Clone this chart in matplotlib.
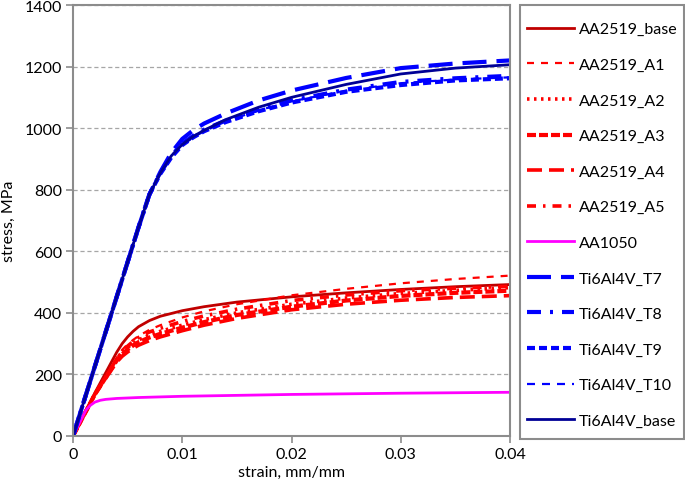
import matplotlib
matplotlib.use("Agg")
import matplotlib.pyplot as plt
from matplotlib.patches import Rectangle

plt.rcParams['font.family'] = ['Lato', 'DejaVu Sans']
plt.rcParams['lines.scale_dashes'] = False

# ---------------- data ----------------
strain_al = [0, 0.002, 0.004, 0.0045, 0.005, 0.0055, 0.006, 0.007, 0.008, 0.01, 0.012, 0.015, 0.02, 0.025, 0.03, 0.035, 0.04]
aa2519_base = [0, 140, 272, 300, 322, 340, 355, 375, 389, 407, 420, 435, 452, 465, 476, 485, 492]
aa2519_a1 = [0, 135, 255, 280, 298, 312, 325, 345, 360, 385, 405, 428, 457, 478, 496, 510, 521]
aa2519_a2 = [0, 135, 250, 272, 288, 301, 312, 328, 340, 360, 378, 400, 428, 448, 463, 473, 482]
aa2519_a3 = [0, 135, 245, 266, 281, 294, 305, 320, 332, 352, 370, 393, 420, 440, 455, 465, 472]
aa2519_a4 = [0, 135, 240, 259, 273, 285, 295, 310, 322, 342, 360, 382, 410, 428, 441, 450, 456]
aa2519_a5 = [0, 135, 250, 274, 292, 307, 320, 338, 350, 372, 390, 412, 440, 458, 472, 480, 486]

strain_1050 = [0, 0.0012, 0.0016, 0.002, 0.0025, 0.003, 0.004, 0.006, 0.01, 0.02, 0.03, 0.04]
aa1050 = [0, 85, 100, 110, 116, 119, 122, 125, 129, 135, 139, 142]

strain_ti = [0, 0.002, 0.004, 0.006, 0.007, 0.008, 0.009, 0.01, 0.011, 0.012, 0.014, 0.017, 0.02, 0.025, 0.03, 0.035, 0.04]
ti_t7 = [0, 226, 452, 678, 785, 858, 920, 965, 993, 1015, 1048, 1090, 1122, 1163, 1195, 1210, 1220]
ti_t8 = [0, 226, 452, 678, 785, 855, 910, 950, 975, 995, 1025, 1060, 1090, 1125, 1150, 1162, 1170]
ti_t9 = [0, 226, 452, 678, 785, 852, 905, 945, 970, 990, 1020, 1055, 1083, 1118, 1140, 1155, 1162]
ti_t10 = [0, 226, 452, 678, 785, 852, 905, 945, 970, 990, 1022, 1058, 1087, 1122, 1146, 1158, 1165]
ti_base = [0, 226, 452, 678, 785, 855, 910, 947, 973, 993, 1028, 1068, 1100, 1142, 1176, 1195, 1206]

x_ticks = [0, 0.01, 0.02, 0.03, 0.04]
x_tick_labels = ['0', '0.01', '0.02', '0.03', '0.04']
y_ticks = [0, 200, 400, 600, 800, 1000, 1200, 1400]

# ---------------- figure ----------------
W, H = 685, 489
fig = plt.figure(figsize=(W / 100, H / 100), dpi=100)
ax = fig.add_axes([73 / W, 1 - 437 / H, (510 - 73) / W, (437 - 6) / H])

px = 0.72  # pixel -> point

def dash(*p):
    return (0, [v * px for v in p])

series = [
    ('AA2519_base', strain_al, aa2519_base, dict(color='#C00000', lw=2.0, ls='-')),
    ('AA2519_A1', strain_al, aa2519_a1, dict(color='#FF0000', lw=1.6, ls=dash(7, 7))),
    ('AA2519_A2', strain_al, aa2519_a2, dict(color='#FF0000', lw=2.6, ls=dash(2.5, 4.5))),
    ('AA2519_A3', strain_al, aa2519_a3, dict(color='#FF0000', lw=3.0, ls=dash(9, 3))),
    ('AA2519_A4', strain_al, aa2519_a4, dict(color='#FF0000', lw=2.6, ls=dash(15, 7))),
    ('AA2519_A5', strain_al, aa2519_a5, dict(color='#FF0000', lw=2.6, ls=dash(9, 7, 2.5, 7))),
    ('AA1050', strain_1050, aa1050, dict(color='#FF00FF', lw=2.0, ls='-')),
    ('Ti6Al4V_T7', strain_ti, ti_t7, dict(color='#0000FF', lw=3.0, ls=dash(24, 10))),
    ('Ti6Al4V_T8', strain_ti, ti_t8, dict(color='#0000FF', lw=3.0, ls=dash(14, 9, 3, 9))),
    ('Ti6Al4V_T9', strain_ti, ti_t9, dict(color='#0000FF', lw=3.0, ls=dash(8, 4))),
    ('Ti6Al4V_T10', strain_ti, ti_t10, dict(color='#0000FF', lw=1.6, ls=dash(8, 7))),
    ('Ti6Al4V_base', strain_ti, ti_base, dict(color='#000096', lw=2.0, ls='-')),
]

handles = []
for name, xs, ys, st in series:
    h, = ax.plot(xs, ys, label=name, **st)
    handles.append(h)

ax.set_xlim(0, 0.04)
ax.set_ylim(0, 1400)
ax.set_xticks(x_ticks)
ax.set_xticklabels(x_tick_labels)
ax.set_yticks(y_ticks)
ax.yaxis.grid(True, color='#A6A6A6', ls=(0, (3, 2)), lw=0.9)
ax.set_axisbelow(True)
for s in ax.spines.values():
    s.set_color('#8C8C8C')
    s.set_linewidth(1.5)
ax.tick_params(axis='both', direction='out', length=5, width=1.2, color='#8C8C8C',
               labelsize=11.5, labelcolor='black', pad=3)
ax.set_xlabel('strain, mm/mm', fontsize=11.5, labelpad=3)
ax.set_ylabel('stress, MPa', fontsize=11.5, labelpad=6)

leg = fig.legend(handles=handles, loc='upper left',
                 bbox_to_anchor=(520 / W, 1 - 16 / H),
                 fontsize=11.5, frameon=False,
                 handlelength=2.95, handletextpad=0.3, labelspacing=1.34,
                 borderpad=0.45, borderaxespad=0)

fig.patches.append(Rectangle((520 / W, 1 - 440 / H), 164 / W, 434 / H,
                             transform=fig.transFigure, fill=False,
                             edgecolor='#8C8C8C', linewidth=1.5))

fig.savefig('out.png', dpi=100)
